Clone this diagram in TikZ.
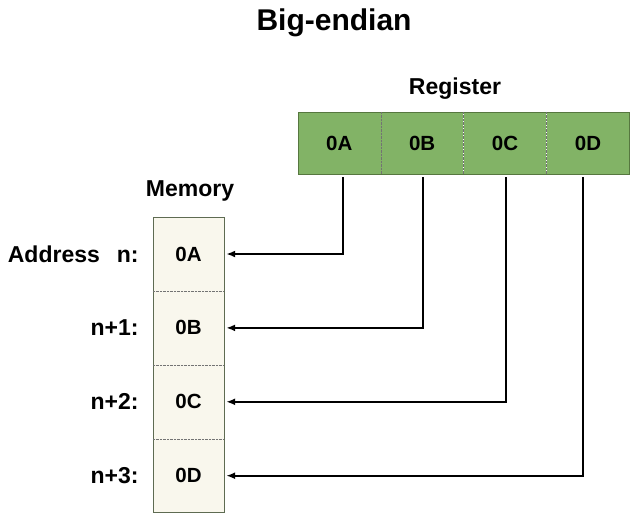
\documentclass[tikz,border=0pt]{standalone}
\usepackage{fontspec}
\setmainfont{Liberation Sans}
\usepackage{tikz}
\usetikzlibrary{positioning, arrows.meta}
\definecolor{reggreen}{HTML}{82B366}
\definecolor{regline}{HTML}{56773F}
\definecolor{memfill}{HTML}{F9F7ED}
\definecolor{memline}{HTML}{5E6B52}
\tikzstyle{rg}=[%
      rectangle, fill=reggreen, minimum width=82.5pt, minimum height=62pt,
      inner sep=0pt, font=\bfseries\fontsize{20.5}{24}\selectfont
]
\tikzstyle{mm}=[%
      rectangle, fill=memfill, minimum width=71pt, minimum height=73.5pt,
      inner sep=0pt, font=\bfseries\fontsize{20.5}{24}\selectfont
]
\tikzstyle{lb}=[%
      font=\bfseries\fontsize{23}{27}\selectfont, inner sep=2pt
]
\tikzstyle{dv}=[%
      densely dotted, draw=black!55, thin
]
\tikzstyle{ln}=[%
      line width=2pt, -{Latex[length=9pt,width=7pt]}, shorten <=3pt, shorten >=2pt
]
\begin{document}
\begin{tikzpicture}[x=1pt, y=1pt]
    \useasboundingbox (0,0) rectangle (631,-515);

    \node[font=\bfseries\fontsize{30}{35}\selectfont] (title) at (334,-23) {Big-endian};

    % register
    \node[rg] (r1) at (339.25,-143) {0A};
    \node[rg] (r2) [right = 0pt of r1] {0B};
    \node[rg] (r3) [right = 0pt of r2] {0C};
    \node[rg] (r4) [right = 0pt of r3] {0D};
    \draw[regline] (r1.north west) rectangle (r4.south east);
    \foreach \i in {1,2,3}
        \draw[dv] (r\i.north east) -- (r\i.south east);
    \node[lb] (reg) at (455,-89) {Register};

    % memory
    \node[mm] (m1) at (188.5,-254) {0A};
    \node[mm] (m2) [below = 0pt of m1] {0B};
    \node[mm] (m3) [below = 0pt of m2] {0C};
    \node[mm] (m4) [below = 0pt of m3] {0D};
    \draw[memline] (m1.north west) rectangle (m4.south east);
    \foreach \i in {1,2,3}
        \draw[dv] (m\i.south west) -- (m\i.south east);
    \node[lb] (mem) at (190,-191) {Memory};

    \node[lb] (a1) [left = 12pt of m1] {Address\hspace{17pt}n:};
    \node[lb] (a2) [left = 12pt of m2] {n+1:};
    \node[lb] (a3) [left = 12pt of m3] {n+2:};
    \node[lb] (a4) [left = 12pt of m4] {n+3:};

    \draw[ln] ([xshift=4pt]r1.south) |- (m1.east);
    \draw[ln] ([xshift=1pt]r2.south) |- (m2.east);
    \draw[ln] ([xshift=1pt]r3.south) |- (m3.east);
    \draw[ln] ([xshift=-5pt]r4.south) |- (m4.east);
\end{tikzpicture}
\end{document}
